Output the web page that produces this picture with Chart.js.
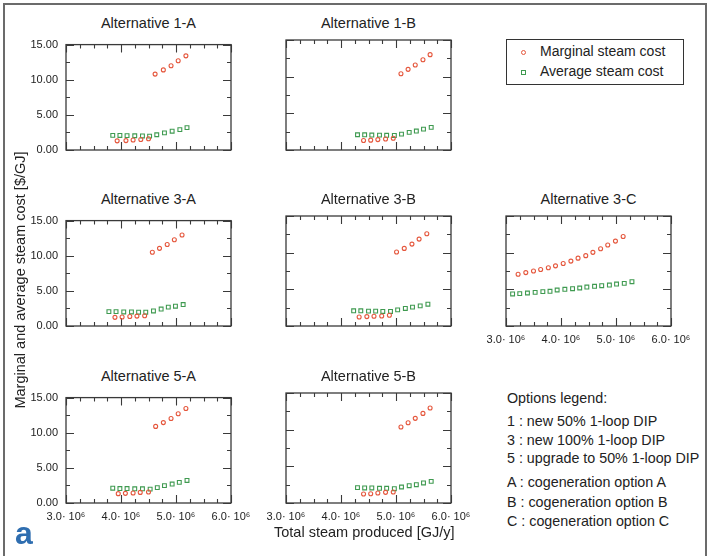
<!DOCTYPE html>
<html>
<head>
<meta charset="utf-8">
<script src="https://cdn.jsdelivr.net/npm/chart.js@4.4.1/dist/chart.umd.min.js"></script>
<style>
  html, body { margin: 0; padding: 0; background: #fff; }
  #page { position: relative; width: 712px; height: 556px; overflow: hidden; font-family: "Liberation Sans", Arial, sans-serif; color: #222; }
  #frame { position: absolute; left: 3px; top: 3px; width: 704px; height: 580px; border: 2px solid #6b6b6b; box-sizing: border-box; }
  canvas { position: absolute; }
  .ptitle { position: absolute; width: 165px; text-align: center; font-size: 14.5px; }
  .txt { position: absolute; white-space: nowrap; }
  #legendBox { position: absolute; left: 506px; top: 39px; width: 178px; height: 46px; border: 1px solid #333; box-sizing: border-box; }
  .mk { position: absolute; box-sizing: border-box; }
</style>
</head>
<body>
<div id="page">
  <div id="frame"></div>
</div>
<script>
// x-waarden in 10^6 GJ/y, y-waarden in $/GJ

// Alternative 1-A
const alt1A_margX = [3.93, 4.09, 4.22, 4.36, 4.50, 4.62, 4.77, 4.91, 5.04, 5.18];
const alt1A_margY = [1.30, 1.34, 1.42, 1.50, 1.60, 10.8, 11.4, 12.0, 12.7, 13.4];
const alt1A_avgX = [3.85, 3.98, 4.11, 4.25, 4.39, 4.52, 4.65, 4.79, 4.93, 5.07, 5.20];
const alt1A_avgY = [2.08, 2.07, 2.04, 2.03, 2.00, 1.98, 2.17, 2.44, 2.68, 2.90, 3.18];

// Alternative 1-B
const alt1B_margX = [4.41, 4.54, 4.67, 4.81, 4.95, 5.09, 5.22, 5.35, 5.49, 5.62];
const alt1B_margY = [1.30, 1.34, 1.42, 1.50, 1.60, 10.4, 11.0, 11.6, 12.3, 13.0];
const alt1B_avgX = [4.30, 4.43, 4.56, 4.70, 4.83, 4.97, 5.10, 5.24, 5.37, 5.50, 5.64];
const alt1B_avgY = [2.08, 2.07, 2.04, 2.03, 2.00, 1.98, 2.17, 2.40, 2.58, 2.85, 3.08];

// Alternative 3-A
const alt3A_margX = [3.89, 4.02, 4.16, 4.29, 4.43, 4.57, 4.70, 4.84, 4.97, 5.11];
const alt3A_margY = [1.23, 1.28, 1.36, 1.41, 1.46, 10.5, 11.05, 11.6, 12.27, 12.95];
const alt3A_avgX = [3.78, 3.91, 4.05, 4.19, 4.32, 4.45, 4.59, 4.73, 4.86, 4.99, 5.13];
const alt3A_avgY = [2.05, 2.05, 2.00, 2.00, 1.96, 1.96, 2.14, 2.41, 2.69, 2.82, 3.05];

// Alternative 3-B
const alt3B_margX = [4.33, 4.47, 4.60, 4.74, 4.88, 5.01, 5.15, 5.29, 5.42, 5.56];
const alt3B_margY = [1.23, 1.28, 1.32, 1.36, 1.46, 10.1, 10.58, 11.17, 11.85, 12.57];
const alt3B_avgX = [4.23, 4.36, 4.50, 4.63, 4.76, 4.90, 5.03, 5.17, 5.30, 5.44, 5.58];
const alt3B_avgY = [2.07, 2.07, 2.03, 2.03, 1.98, 1.98, 2.20, 2.39, 2.57, 2.74, 2.97];

// Alternative 3-C
const alt3C_margX = [3.22, 3.36, 3.50, 3.63, 3.77, 3.90, 4.04, 4.18, 4.31, 4.45, 4.58, 4.72, 4.85, 4.99, 5.13];
const alt3C_margY = [7.05, 7.28, 7.50, 7.70, 7.95, 8.20, 8.53, 8.85, 9.25, 9.59, 10.04, 10.54, 11.04, 11.58, 12.20];
const alt3C_avgX = [3.12, 3.25, 3.39, 3.53, 3.67, 3.80, 3.93, 4.07, 4.21, 4.34, 4.47, 4.61, 4.74, 4.88, 5.01, 5.15, 5.29];
const alt3C_avgY = [4.37, 4.42, 4.50, 4.59, 4.69, 4.73, 4.91, 5.00, 5.09, 5.18, 5.31, 5.41, 5.50, 5.58, 5.72, 5.81, 6.04];

// Alternative 5-A
const alt5A_margX = [3.95, 4.08, 4.22, 4.35, 4.50, 4.63, 4.77, 4.91, 5.04, 5.18];
const alt5A_margY = [1.33, 1.37, 1.42, 1.51, 1.56, 10.9, 11.44, 12.03, 12.71, 13.44];
const alt5A_avgX = [3.85, 3.98, 4.11, 4.25, 4.39, 4.53, 4.66, 4.79, 4.93, 5.06, 5.20];
const alt5A_avgY = [2.11, 2.06, 2.06, 2.02, 2.02, 1.97, 2.19, 2.47, 2.70, 2.93, 3.21];

// Alternative 5-B
const alt5B_margX = [4.41, 4.54, 4.67, 4.81, 4.95, 5.09, 5.22, 5.35, 5.49, 5.62];
const alt5B_margY = [1.23, 1.27, 1.36, 1.45, 1.50, 10.36, 10.95, 11.54, 12.22, 12.95];
const alt5B_avgX = [4.30, 4.43, 4.56, 4.70, 4.83, 4.97, 5.10, 5.24, 5.37, 5.50, 5.64];
const alt5B_avgY = [2.10, 2.05, 2.05, 2.00, 2.00, 1.95, 2.18, 2.36, 2.50, 2.73, 2.95];

// as-bereik en ticks
const xRange = [3, 6];
const yRange = [0, 15];
const xMajorStep = 1, xMinorStep = 0.25;
const yMajorStep = 5, yMinorStep = 2.5;

const seriesLabels = ['Marginal steam cost', 'Average steam cost'];
const optionsLegend = [
  'Options legend:',
  '1 : new 50% 1-loop DIP',
  '3 : new 100% 1-loop DIP',
  '5 : upgrade to 50% 1-loop DIP',
  'A : cogeneration option A',
  'B : cogeneration option B',
  'C : cogeneration option C'
];

const RED = '#e5573d';
const GREEN = '#3f9a50';
const BOX_W = 165, BOX_H = 110;
const AX_W = 60, AX_H = 30, PAD_T = 10, PAD_R = 32;

// Plugin: kader rond plotgebied en ticks naar binnen
const frameTicks = {
  id: 'frameTicks',
  beforeDatasetsDraw(chart) {
    const ctx = chart.ctx;
    const a = chart.chartArea;
    const xs = chart.scales.x, ys = chart.scales.y;
    ctx.save();
    ctx.strokeStyle = '#3a3a3a';
    ctx.lineWidth = 1.3;
    ctx.strokeRect(a.left, a.top, a.right - a.left, a.bottom - a.top);
    ctx.lineWidth = 1.1;
    ctx.beginPath();
    for (let v = xRange[0]; v <= xRange[1] + 1e-6; v += xMinorStep) {
      const px = Math.round(xs.getPixelForValue(v)) + 0.5;
      const isMajor = Math.abs(v / xMajorStep - Math.round(v / xMajorStep)) < 1e-6;
      const len = isMajor ? 8 : 4;
      ctx.moveTo(px, a.bottom); ctx.lineTo(px, a.bottom - len);
      ctx.moveTo(px, a.top); ctx.lineTo(px, a.top + len);
    }
    for (let v = yRange[0]; v <= yRange[1] + 1e-6; v += yMinorStep) {
      const py = Math.round(ys.getPixelForValue(v)) + 0.5;
      const isMajor = Math.abs(v / yMajorStep - Math.round(v / yMajorStep)) < 1e-6;
      const len = isMajor ? 8 : 4;
      ctx.moveTo(a.left, py); ctx.lineTo(a.left + len, py);
      ctx.moveTo(a.right, py); ctx.lineTo(a.right - len, py);
    }
    ctx.stroke();
    ctx.restore();
  }
};

function toPoints(xs, ys) {
  return xs.map((x, i) => ({ x: x, y: ys[i] }));
}

// Maak een paneel op positie (links, boven) van het plotgebied
function makePanel(title, left, top, margX, margY, avgX, avgY, showX, showY) {
  const page = document.getElementById('page');

  const t = document.createElement('div');
  t.className = 'ptitle';
  t.style.left = left + 'px';
  t.style.top = (top - 25) + 'px';
  t.textContent = title;
  page.appendChild(t);

  const canvas = document.createElement('canvas');
  const w = AX_W + BOX_W + PAD_R, h = PAD_T + BOX_H + AX_H;
  canvas.width = w; canvas.height = h;
  canvas.style.width = w + 'px'; canvas.style.height = h + 'px';
  canvas.style.left = (left - AX_W) + 'px';
  canvas.style.top = (top - PAD_T) + 'px';
  page.appendChild(canvas);

  new Chart(canvas.getContext('2d'), {
    type: 'scatter',
    data: {
      datasets: [
        {
          label: seriesLabels[0],
          data: toPoints(margX, margY),
          pointStyle: 'circle',
          pointRadius: 2.0,
          pointBorderWidth: 1.1,
          borderColor: RED,
          backgroundColor: 'rgba(255,255,255,0)'
        },
        {
          label: seriesLabels[1],
          data: toPoints(avgX, avgY),
          pointStyle: 'rect',
          pointRadius: 2.7,
          pointBorderWidth: 1.1,
          borderColor: GREEN,
          backgroundColor: 'rgba(255,255,255,0)'
        }
      ]
    },
    options: {
      responsive: false,
      animation: false,
      devicePixelRatio: 1,
      layout: { padding: { left: 0, right: PAD_R, top: PAD_T, bottom: 0 } },
      plugins: { legend: { display: false }, tooltip: { enabled: false }, title: { display: false } },
      scales: {
        x: {
          type: 'linear',
          min: xRange[0], max: xRange[1],
          grid: { display: false, drawTicks: false },
          border: { display: false },
          ticks: {
            display: showX,
            stepSize: xMajorStep,
            maxRotation: 0,
            autoSkip: false,
            padding: 7,
            color: '#222',
            font: { family: '"Liberation Sans", Arial, sans-serif', size: 11 },
            callback: v => v.toFixed(1) + '\u00b7 10\u2076'
          },
          afterFit: s => { s.height = AX_H; }
        },
        y: {
          min: yRange[0], max: yRange[1],
          grid: { display: false, drawTicks: false },
          border: { display: false },
          ticks: {
            display: showY,
            stepSize: yMajorStep,
            padding: 8,
            color: '#222',
            font: { family: '"Liberation Sans", Arial, sans-serif', size: 11 },
            callback: v => v.toFixed(2)
          },
          afterFit: s => { s.width = AX_W; }
        }
      }
    },
    plugins: [frameTicks]
  });
}

const colLeft = [66, 286, 506];
const rowTop = [40, 216, 393];

makePanel('Alternative 1-A', colLeft[0], rowTop[0], alt1A_margX, alt1A_margY, alt1A_avgX, alt1A_avgY, false, true);
makePanel('Alternative 1-B', colLeft[1], rowTop[0], alt1B_margX, alt1B_margY, alt1B_avgX, alt1B_avgY, false, false);
makePanel('Alternative 3-A', colLeft[0], rowTop[1], alt3A_margX, alt3A_margY, alt3A_avgX, alt3A_avgY, false, true);
makePanel('Alternative 3-B', colLeft[1], rowTop[1], alt3B_margX, alt3B_margY, alt3B_avgX, alt3B_avgY, false, false);
makePanel('Alternative 3-C', colLeft[2], rowTop[1], alt3C_margX, alt3C_margY, alt3C_avgX, alt3C_avgY, true, false);
makePanel('Alternative 5-A', colLeft[0], rowTop[2], alt5A_margX, alt5A_margY, alt5A_avgX, alt5A_avgY, true, true);
makePanel('Alternative 5-B', colLeft[1], rowTop[2], alt5B_margX, alt5B_margY, alt5B_avgX, alt5B_avgY, true, false);

// Teksten en legenda's
function addText(str, left, top, css) {
  const d = document.createElement('div');
  d.className = 'txt';
  d.style.left = left + 'px';
  d.style.top = top + 'px';
  Object.assign(d.style, css || {});
  d.textContent = str;
  document.getElementById('page').appendChild(d);
  return d;
}

const page = document.getElementById('page');
const lb = document.createElement('div');
lb.id = 'legendBox';
page.appendChild(lb);

const mk1 = document.createElement('div');
mk1.className = 'mk';
Object.assign(mk1.style, { left: '521px', top: '50px', width: '5px', height: '5px', border: '1.1px solid ' + RED, borderRadius: '50%' });
page.appendChild(mk1);
const mk2 = document.createElement('div');
mk2.className = 'mk';
Object.assign(mk2.style, { left: '521px', top: '70px', width: '5px', height: '5px', border: '1.1px solid ' + GREEN });
page.appendChild(mk2);

addText(seriesLabels[0], 540, 43, { fontSize: '14px' });
addText(seriesLabels[1], 540, 63, { fontSize: '14px' });

const optTops = [390, 413, 432, 450, 474, 494, 513];
optionsLegend.forEach((s, i) => addText(s, 507, optTops[i], { fontSize: '14.3px' }));

addText('Total steam produced [GJ/y]', 274, 524, { fontSize: '14.5px' });
const yt = addText('Marginal and average steam cost [$/GJ]', 0, 0, { fontSize: '14.5px' });
yt.style.left = '20px';
yt.style.top = '280px';
yt.style.transform = 'translate(-50%, -50%) rotate(-90deg)';

addText('a', 15, 515, { fontSize: '32px', fontWeight: 'bold', color: '#2f6eb0' });
</script>
